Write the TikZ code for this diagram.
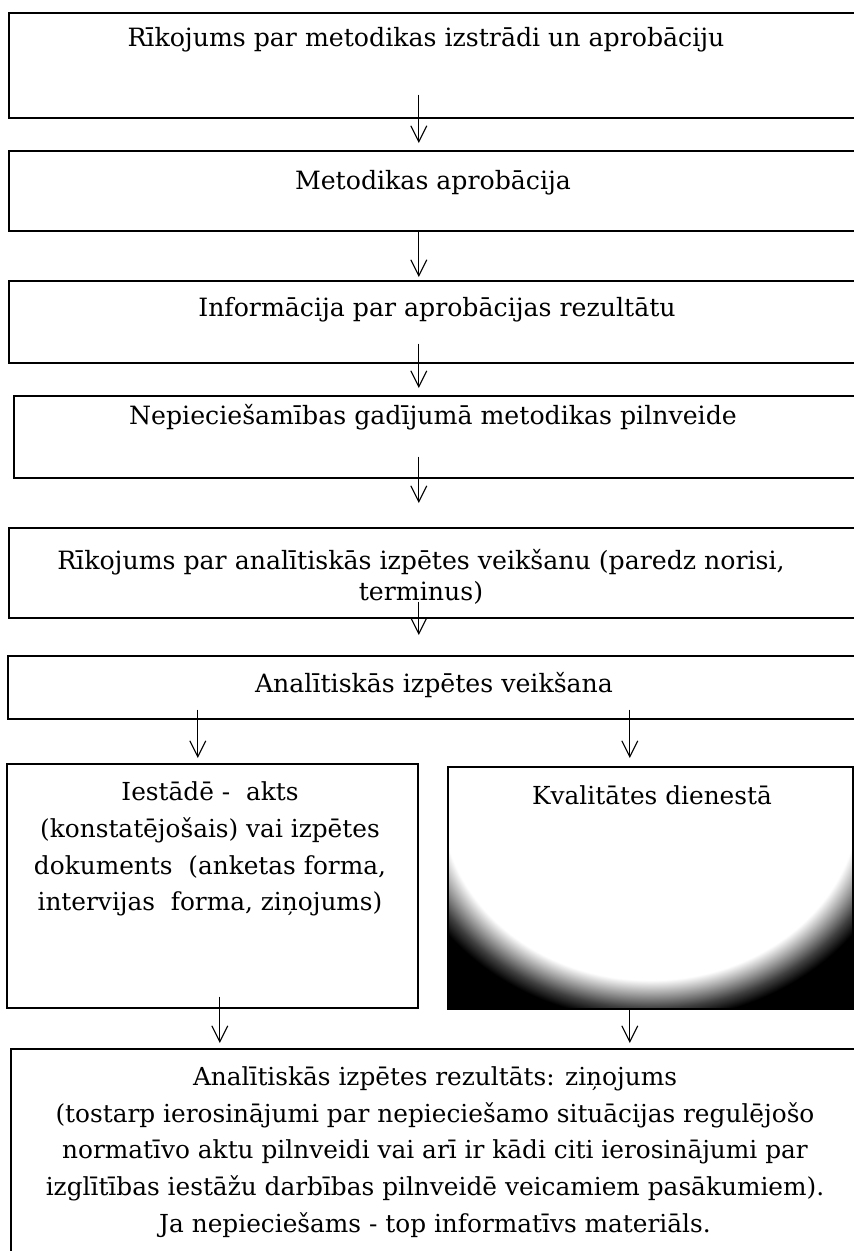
\documentclass[tikz,border=0pt]{standalone}
\usepackage{fontspec}
\setmainfont{DejaVu Serif}
\usetikzlibrary{arrows.meta}
\pgfdeclareradialshading{vign}{\pgfpoint{0bp}{0bp}}{color(0bp)=(white); color(18bp)=(white); color(19.5bp)=(black!40); color(20.8bp)=(black!75); color(22bp)=(black); color(50bp)=(black)}
\tikzset{
  box/.style={draw=black, line width=1.6pt, rectangle, inner sep=0pt, anchor=north west},
  maintxt/.style={inner sep=0pt, font=\fontsize{25.2pt}{31pt}\selectfont, align=center},
  subtxt/.style={inner sep=0pt, font=\fontsize{24.8pt}{36.8pt}\selectfont, align=center},
  arr/.style={line width=1.1pt, -{Straight Barb[length=16pt,width=16pt,line width=1.1pt]}}
}
\begin{document}
\begin{tikzpicture}[x=1pt,y=-1pt]
\useasboundingbox (0,0) rectangle (854,1251);
\clip (0,0) rectangle (854,1251);
\fill[white] (0,0) rectangle (854,1251);
% boxes
\node[box, minimum width=848pt, minimum height=105pt] (b1) at (8,12) {};
\node[box, minimum width=848pt, minimum height=80pt] (b2) at (8,150) {};
\node[box, minimum width=848pt, minimum height=82pt] (b3) at (8,280) {};
\node[box, minimum width=843pt, minimum height=82pt] (b4) at (13,395) {};
\node[box, minimum width=848pt, minimum height=90pt] (b5) at (8,527) {};
\node[box, minimum width=849pt, minimum height=63pt] (b6) at (7,655) {};
\node[box, minimum width=411pt, minimum height=244pt] (b7) at (6,763) {};
\begin{scope}
\clip (447,766) rectangle (852,1008);
\shade[shading=vign] (360,550) rectangle (940,1050);
\end{scope}
\node[box, minimum width=405pt, minimum height=242pt] (b8) at (447,766) {};
\node[box, minimum width=846pt, minimum height=240pt] (b9) at (10,1048) {};
% texts
\node[maintxt] (t1) at (426,40) {Rīkojums par metodikas izstrādi un aprobāciju};
\node[maintxt] (t2) at (433,183) {Metodikas aprobācija};
\node[maintxt] (t3) at (437,310) {Informācija par aprobācijas rezultātu};
\node[maintxt] (t4) at (433,417) {Nepieciešamības gadījumā metodikas pilnveide};
\node[maintxt] (t5) at (421,577) {Rīkojums par analītiskās izpētes veikšanu (paredz norisi,\\terminus)};
\node[maintxt] (t6) at (434,685) {Analītiskās izpētes veikšana};
\node[subtxt] (t7) at (210,849) {Iestādē -\ \ akts\\(konstatējošais) vai izpētes\\dokuments\ \ (anketas forma,\\intervijas\ \ forma, ziņojums)};
\node[subtxt] (t8) at (652,795) {Kvalitātes dienestā};
\node[subtxt] (t9) at (435,1152) {Analītiskās izpētes rezultāts: ziņojums\\(tostarp ierosinājumi par nepieciešamo situācijas regulējošo\\normatīvo aktu pilnveidi vai arī ir kādi citi ierosinājumi par\\izglītības iestāžu darbības pilnveidē veicamiem pasākumiem).\\Ja nepieciešams - top informatīvs materiāls.};
% arrows
\draw[arr, shorten >=7pt] ([xshift=-14pt,yshift=24pt]b1.south) -- ([xshift=-14pt]b2.north);
\draw[arr, shorten >=3pt] ([xshift=-14pt]b2.south) -- ([xshift=-14pt]b3.north);
\draw[arr, shorten >=7pt] ([xshift=-14pt,yshift=20pt]b3.south) -- ([xshift=-16.5pt]b4.north);
\draw[arr, shorten >=24pt] ([xshift=-16.5pt,yshift=22pt]b4.south) -- ([xshift=-14pt]b5.north);
\draw[arr, shorten >=20pt] ([xshift=-14pt,yshift=17pt]b5.south) -- ([xshift=-13.5pt]b6.north);
\draw[arr, shorten >=5pt] ([xshift=-234.5pt,yshift=10pt]b6.south) -- ([xshift=-14.5pt]b7.north);
\draw[arr, shorten >=8pt] ([xshift=197.5pt,yshift=10pt]b6.south) -- ([xshift=-20.5pt]b8.north);
\draw[arr, shorten >=5pt] ([xshift=7.5pt,yshift=12pt]b7.south) -- ([xshift=-214pt]b9.north);
\draw[arr, shorten >=5pt] ([xshift=-20.5pt]b8.south) -- ([xshift=196pt]b9.north);
\end{tikzpicture}
\end{document}
